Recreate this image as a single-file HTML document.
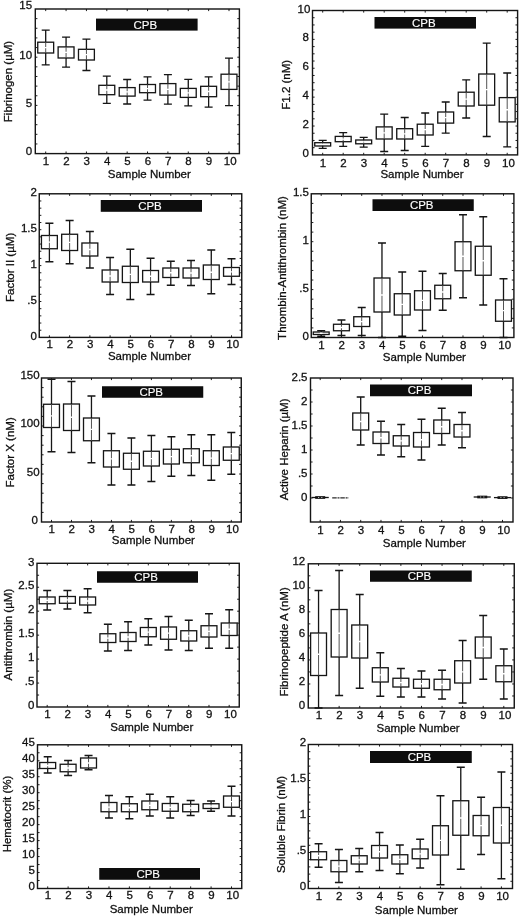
<!DOCTYPE html>
<html lang="en">
<head>
<meta charset="utf-8">
<title>Box plots: coagulation markers by sample number during CPB</title>
<style>
html,body{margin:0;padding:0;background:#fff;}
body{width:520px;height:918px;overflow:hidden;}
svg{display:block;}
svg text{font-family:"Liberation Sans",Arial,Helvetica,sans-serif;font-size:11.5px;fill:#121212;stroke:#121212;stroke-width:0.3px;}
svg text.w{fill:#fff;stroke:#fff;stroke-width:0.15px;}
</style>
</head>
<body>
<svg width="520" height="918" viewBox="0 0 520 918">
<defs><filter id="soft" x="0" y="0" width="520" height="918" filterUnits="userSpaceOnUse"><feGaussianBlur stdDeviation="0.3"/></filter></defs>
<rect width="520" height="918" fill="#fff"/>
<g filter="url(#soft)">
<rect width="520" height="918" fill="#fff"/>
<g>
<path d="M35.3 143.96h2.1M239.4 143.96h-2.1M35.3 134.32h2.1M239.4 134.32h-2.1M35.3 124.68h2.1M239.4 124.68h-2.1M35.3 115.04h2.1M239.4 115.04h-2.1M35.3 105.4h2.1M239.4 105.4h-2.1M35.3 95.76h2.1M239.4 95.76h-2.1M35.3 86.12h2.1M239.4 86.12h-2.1M35.3 76.48h2.1M239.4 76.48h-2.1M35.3 66.84h2.1M239.4 66.84h-2.1M35.3 57.2h2.1M239.4 57.2h-2.1M35.3 47.56h2.1M239.4 47.56h-2.1M35.3 37.92h2.1M239.4 37.92h-2.1M35.3 28.28h2.1M239.4 28.28h-2.1M35.3 18.64h2.1M239.4 18.64h-2.1M45.7 153.6v-2.1M45.7 9v2.1M66.07 153.6v-2.1M66.07 9v2.1M86.43 153.6v-2.1M86.43 9v2.1M106.8 153.6v-2.1M106.8 9v2.1M127.17 153.6v-2.1M127.17 9v2.1M147.53 153.6v-2.1M147.53 9v2.1M167.9 153.6v-2.1M167.9 9v2.1M188.27 153.6v-2.1M188.27 9v2.1M208.63 153.6v-2.1M208.63 9v2.1M229 153.6v-2.1M229 9v2.1" stroke="#121212" stroke-width="0.95" fill="none"/>
<path d="M45.7 30.1V42.2M45.7 53V64.8M41.7 30.1h8M41.7 64.8h8M66.07 37.2V46.9M66.07 58V67.1M62.07 37.2h8M62.07 67.1h8M86.43 39.2V49.3M86.43 60V70.5M82.43 39.2h8M82.43 70.5h8M106.8 76.2V85.3M106.8 94.7V103.3M102.8 76.2h8M102.8 103.3h8M127.17 79.5V87.6M127.17 96.1V104M123.17 79.5h8M123.17 104h8M147.53 76.8V84.5M147.53 92.7V100.1M143.53 76.8h8M143.53 100.1h8M167.9 74.6V83.6M167.9 95.1V104.2M163.9 74.6h8M163.9 104.2h8M188.27 79.3V88.4M188.27 97.4V105.9M184.27 79.3h8M184.27 105.9h8M208.63 76.9V86.3M208.63 96.7V107.2M204.63 76.9h8M204.63 107.2h8M229 58.1V74.2M229 89.4V105.6M225 58.1h8M225 105.6h8" stroke="#121212" stroke-width="1.3" fill="none"/>
<g fill="#fff" stroke="#121212" stroke-width="1.3"><rect x="37.75" y="42.2" width="15.9" height="10.8"/><rect x="58.12" y="46.9" width="15.9" height="11.1"/><rect x="78.48" y="49.3" width="15.9" height="10.7"/><rect x="98.85" y="85.3" width="15.9" height="9.4"/><rect x="119.22" y="87.6" width="15.9" height="8.5"/><rect x="139.58" y="84.5" width="15.9" height="8.2"/><rect x="159.95" y="83.6" width="15.9" height="11.5"/><rect x="180.32" y="88.4" width="15.9" height="9"/><rect x="200.68" y="86.3" width="15.9" height="10.4"/><rect x="221.05" y="74.2" width="15.9" height="15.2"/></g>
<path d="M45.7 42.2V53M66.07 46.9V58M86.43 49.3V60M106.8 85.3V94.7M127.17 87.6V96.1M147.53 84.5V92.7M167.9 83.6V95.1M188.27 88.4V97.4M208.63 86.3V96.7M229 74.2V89.4" stroke="#4a4a4a" stroke-width="0.95" fill="none"/>
<path d="M44.4 47.6h2.6M64.77 52.45h2.6M85.13 54.65h2.6M105.5 90h2.6M125.87 91.85h2.6M146.23 88.6h2.6M166.6 89.35h2.6M186.97 92.9h2.6M207.33 91.5h2.6M227.7 81.8h2.6" stroke="#fff" stroke-width="1.3" fill="none"/>
<rect x="35.3" y="9" width="204.1" height="144.6" fill="none" stroke="#121212" stroke-width="1.4"/>
<rect x="96" y="18.6" width="101.6" height="12" fill="#0a0a0a"/>
<text class="w" x="145.4" y="28.7" text-anchor="middle">CPB</text>
<text x="32.1" y="9.1" text-anchor="end">15</text>
<text x="32.1" y="58.5" text-anchor="end">10</text>
<text x="32.1" y="106.7" text-anchor="end">5</text>
<text x="32.1" y="154.9" text-anchor="end">0</text>
<text x="46" y="164.7" text-anchor="middle">1</text>
<text x="66.37" y="164.7" text-anchor="middle">2</text>
<text x="86.73" y="164.7" text-anchor="middle">3</text>
<text x="107.1" y="164.7" text-anchor="middle">4</text>
<text x="127.47" y="164.7" text-anchor="middle">5</text>
<text x="147.83" y="164.7" text-anchor="middle">6</text>
<text x="168.2" y="164.7" text-anchor="middle">7</text>
<text x="188.57" y="164.7" text-anchor="middle">8</text>
<text x="208.93" y="164.7" text-anchor="middle">9</text>
<text x="230.2" y="164.7" text-anchor="middle">10</text>
<text x="149.3" y="177.7" text-anchor="middle">Sample Number</text>
<text transform="translate(11.75 81.5) rotate(-90)" text-anchor="middle">Fibrinogen (µM)</text>
</g>
<g>
<path d="M312.5 147.68h2.1M517.6 147.68h-2.1M312.5 140.46h2.1M517.6 140.46h-2.1M312.5 133.24h2.1M517.6 133.24h-2.1M312.5 126.02h2.1M517.6 126.02h-2.1M312.5 118.8h2.1M517.6 118.8h-2.1M312.5 111.58h2.1M517.6 111.58h-2.1M312.5 104.36h2.1M517.6 104.36h-2.1M312.5 97.14h2.1M517.6 97.14h-2.1M312.5 89.92h2.1M517.6 89.92h-2.1M312.5 82.7h2.1M517.6 82.7h-2.1M312.5 75.48h2.1M517.6 75.48h-2.1M312.5 68.26h2.1M517.6 68.26h-2.1M312.5 61.04h2.1M517.6 61.04h-2.1M312.5 53.82h2.1M517.6 53.82h-2.1M312.5 46.6h2.1M517.6 46.6h-2.1M312.5 39.38h2.1M517.6 39.38h-2.1M312.5 32.16h2.1M517.6 32.16h-2.1M312.5 24.94h2.1M517.6 24.94h-2.1M312.5 17.72h2.1M517.6 17.72h-2.1M322.7 154.9v-2.1M322.7 10.5v2.1M343.2 154.9v-2.1M343.2 10.5v2.1M363.7 154.9v-2.1M363.7 10.5v2.1M384.2 154.9v-2.1M384.2 10.5v2.1M404.7 154.9v-2.1M404.7 10.5v2.1M425.2 154.9v-2.1M425.2 10.5v2.1M445.7 154.9v-2.1M445.7 10.5v2.1M466.2 154.9v-2.1M466.2 10.5v2.1M486.7 154.9v-2.1M486.7 10.5v2.1M507.2 154.9v-2.1M507.2 10.5v2.1" stroke="#121212" stroke-width="0.95" fill="none"/>
<path d="M322.7 140.3V142.7M322.7 146V148.3M318.7 140.3h8M318.7 148.3h8M343.2 132.6V136.4M343.2 141.7V146.3M339.2 132.6h8M339.2 146.3h8M363.7 137.3V140M363.7 143.8V147.1M359.7 137.3h8M359.7 147.1h8M384.2 114.1V126.9M384.2 139V151.5M380.2 114.1h8M380.2 151.5h8M404.7 117.5V128.7M404.7 139V150.5M400.7 117.5h8M400.7 150.5h8M425.2 113V124.2M425.2 135V146.4M421.2 113h8M421.2 146.4h8M445.7 102V112M445.7 123.1V133.1M441.7 102h8M441.7 133.1h8M466.2 79.8V92.2M466.2 106V118M462.2 79.8h8M462.2 118h8M486.7 43.1V74M486.7 105.2V136.5M482.7 43.1h8M482.7 136.5h8M507.2 73V97.6M507.2 121.9V146.8M503.2 73h8M503.2 146.8h8" stroke="#121212" stroke-width="1.3" fill="none"/>
<g fill="#fff" stroke="#121212" stroke-width="1.3"><rect x="314.75" y="142.7" width="15.9" height="3.3"/><rect x="335.25" y="136.4" width="15.9" height="5.3"/><rect x="355.75" y="140" width="15.9" height="3.8"/><rect x="376.25" y="126.9" width="15.9" height="12.1"/><rect x="396.75" y="128.7" width="15.9" height="10.3"/><rect x="417.25" y="124.2" width="15.9" height="10.8"/><rect x="437.75" y="112" width="15.9" height="11.1"/><rect x="458.25" y="92.2" width="15.9" height="13.8"/><rect x="478.75" y="74" width="15.9" height="31.2"/><rect x="499.25" y="97.6" width="15.9" height="24.3"/></g>
<path d="M322.7 142.7V146M343.2 136.4V141.7M363.7 140V143.8M384.2 126.9V139M404.7 128.7V139M425.2 124.2V135M445.7 112V123.1M466.2 92.2V106M486.7 74V105.2M507.2 97.6V121.9" stroke="#4a4a4a" stroke-width="0.95" fill="none"/>
<path d="M321.4 144.35h2.6M341.9 139.05h2.6M362.4 141.9h2.6M382.9 132.95h2.6M403.4 133.85h2.6M423.9 129.6h2.6M444.4 117.55h2.6M464.9 99.1h2.6M485.4 89.6h2.6M505.9 109.75h2.6" stroke="#fff" stroke-width="1.3" fill="none"/>
<rect x="312.5" y="10.5" width="205.1" height="144.4" fill="none" stroke="#121212" stroke-width="1.4"/>
<rect x="374.5" y="17" width="101.5" height="11.6" fill="#0a0a0a"/>
<text class="w" x="423.85" y="26.9" text-anchor="middle">CPB</text>
<text x="310.3" y="12.5" text-anchor="end">10</text>
<text x="308.9" y="41.38" text-anchor="end">8</text>
<text x="308.9" y="70.26" text-anchor="end">6</text>
<text x="308.9" y="99.14" text-anchor="end">4</text>
<text x="308.9" y="128.02" text-anchor="end">2</text>
<text x="308.9" y="156.9" text-anchor="end">0</text>
<text x="323" y="166.5" text-anchor="middle">1</text>
<text x="343.5" y="166.5" text-anchor="middle">2</text>
<text x="364" y="166.5" text-anchor="middle">3</text>
<text x="384.5" y="166.5" text-anchor="middle">4</text>
<text x="405" y="166.5" text-anchor="middle">5</text>
<text x="425.5" y="166.5" text-anchor="middle">6</text>
<text x="446" y="166.5" text-anchor="middle">7</text>
<text x="466.5" y="166.5" text-anchor="middle">8</text>
<text x="487" y="166.5" text-anchor="middle">9</text>
<text x="508.4" y="166.5" text-anchor="middle">10</text>
<text x="422" y="178.3" text-anchor="middle">Sample Number</text>
<text transform="translate(290 84.75) rotate(-90)" text-anchor="middle">F1.2 (nM)</text>
</g>
<g>
<path d="M39.25 330.22h2.1M241.75 330.22h-2.1M39.25 323.04h2.1M241.75 323.04h-2.1M39.25 315.86h2.1M241.75 315.86h-2.1M39.25 308.68h2.1M241.75 308.68h-2.1M39.25 301.5h2.1M241.75 301.5h-2.1M39.25 294.32h2.1M241.75 294.32h-2.1M39.25 287.14h2.1M241.75 287.14h-2.1M39.25 279.96h2.1M241.75 279.96h-2.1M39.25 272.78h2.1M241.75 272.78h-2.1M39.25 265.6h2.1M241.75 265.6h-2.1M39.25 258.42h2.1M241.75 258.42h-2.1M39.25 251.24h2.1M241.75 251.24h-2.1M39.25 244.06h2.1M241.75 244.06h-2.1M39.25 236.88h2.1M241.75 236.88h-2.1M39.25 229.7h2.1M241.75 229.7h-2.1M39.25 222.52h2.1M241.75 222.52h-2.1M39.25 215.34h2.1M241.75 215.34h-2.1M39.25 208.16h2.1M241.75 208.16h-2.1M39.25 200.98h2.1M241.75 200.98h-2.1M49.4 337.4v-2.1M49.4 193.8v2.1M69.63 337.4v-2.1M69.63 193.8v2.1M89.87 337.4v-2.1M89.87 193.8v2.1M110.1 337.4v-2.1M110.1 193.8v2.1M130.33 337.4v-2.1M130.33 193.8v2.1M150.57 337.4v-2.1M150.57 193.8v2.1M170.8 337.4v-2.1M170.8 193.8v2.1M191.03 337.4v-2.1M191.03 193.8v2.1M211.27 337.4v-2.1M211.27 193.8v2.1M231.5 337.4v-2.1M231.5 193.8v2.1" stroke="#121212" stroke-width="0.95" fill="none"/>
<path d="M49.4 223.25V235.5M49.4 248.75V261.75M45.4 223.25h8M45.4 261.75h8M69.63 220.5V234.25M69.63 250.5V263.75M65.63 220.5h8M65.63 263.75h8M89.87 231.5V243M89.87 256V268M85.87 231.5h8M85.87 268h8M110.1 257.5V270M110.1 282V294.5M106.1 257.5h8M106.1 294.5h8M130.33 249.25V266.25M130.33 282.5V299.5M126.33 249.25h8M126.33 299.5h8M150.57 258.25V270.5M150.57 282V294.5M146.57 258.25h8M146.57 294.5h8M170.8 261.25V268M170.8 277.5V285.25M166.8 261.25h8M166.8 285.25h8M191.03 260.5V268M191.03 278V285.5M187.03 260.5h8M187.03 285.5h8M211.27 250V265M211.27 279.5V293.75M207.27 250h8M207.27 293.75h8M231.5 258.75V267.5M231.5 276.25V284.5M227.5 258.75h8M227.5 284.5h8" stroke="#121212" stroke-width="1.3" fill="none"/>
<g fill="#fff" stroke="#121212" stroke-width="1.3"><rect x="41.45" y="235.5" width="15.9" height="13.25"/><rect x="61.68" y="234.25" width="15.9" height="16.25"/><rect x="81.92" y="243" width="15.9" height="13"/><rect x="102.15" y="270" width="15.9" height="12"/><rect x="122.38" y="266.25" width="15.9" height="16.25"/><rect x="142.62" y="270.5" width="15.9" height="11.5"/><rect x="162.85" y="268" width="15.9" height="9.5"/><rect x="183.08" y="268" width="15.9" height="10"/><rect x="203.32" y="265" width="15.9" height="14.5"/><rect x="223.55" y="267.5" width="15.9" height="8.75"/></g>
<path d="M49.4 235.5V248.75M69.63 234.25V250.5M89.87 243V256M110.1 270V282M130.33 266.25V282.5M150.57 270.5V282M170.8 268V277.5M191.03 268V278M211.27 265V279.5M231.5 267.5V276.25" stroke="#4a4a4a" stroke-width="0.95" fill="none"/>
<path d="M48.1 242.12h2.6M68.33 242.38h2.6M88.57 249.5h2.6M108.8 276h2.6M129.03 274.38h2.6M149.27 276.25h2.6M169.5 272.75h2.6M189.73 273h2.6M209.97 272.25h2.6M230.2 271.88h2.6" stroke="#fff" stroke-width="1.3" fill="none"/>
<rect x="39.25" y="193.8" width="202.5" height="143.6" fill="none" stroke="#121212" stroke-width="1.4"/>
<rect x="100.75" y="200" width="101.25" height="11.8" fill="#0a0a0a"/>
<text class="w" x="149.97" y="210" text-anchor="middle">CPB</text>
<text x="36.95" y="196.1" text-anchor="end">2</text>
<text x="36.95" y="232" text-anchor="end">1.5</text>
<text x="36.95" y="267.9" text-anchor="end">1</text>
<text x="36.95" y="303.8" text-anchor="end">.5</text>
<text x="36.95" y="339.7" text-anchor="end">0</text>
<text x="49.7" y="348" text-anchor="middle">1</text>
<text x="69.93" y="348" text-anchor="middle">2</text>
<text x="90.17" y="348" text-anchor="middle">3</text>
<text x="110.4" y="348" text-anchor="middle">4</text>
<text x="130.63" y="348" text-anchor="middle">5</text>
<text x="150.87" y="348" text-anchor="middle">6</text>
<text x="171.1" y="348" text-anchor="middle">7</text>
<text x="191.33" y="348" text-anchor="middle">8</text>
<text x="211.57" y="348" text-anchor="middle">9</text>
<text x="232.7" y="348" text-anchor="middle">10</text>
<text x="149.5" y="360" text-anchor="middle">Sample Number</text>
<text transform="translate(14 267.4) rotate(-90)" text-anchor="middle">Factor II (µM)</text>
</g>
<g>
<path d="M311.25 327.92h2.1M513.9 327.92h-2.1M311.25 318.34h2.1M513.9 318.34h-2.1M311.25 308.76h2.1M513.9 308.76h-2.1M311.25 299.18h2.1M513.9 299.18h-2.1M311.25 289.6h2.1M513.9 289.6h-2.1M311.25 280.02h2.1M513.9 280.02h-2.1M311.25 270.44h2.1M513.9 270.44h-2.1M311.25 260.86h2.1M513.9 260.86h-2.1M311.25 251.28h2.1M513.9 251.28h-2.1M311.25 241.7h2.1M513.9 241.7h-2.1M311.25 232.12h2.1M513.9 232.12h-2.1M311.25 222.54h2.1M513.9 222.54h-2.1M311.25 212.96h2.1M513.9 212.96h-2.1M311.25 203.38h2.1M513.9 203.38h-2.1M321.2 337.5v-2.1M321.2 193.8v2.1M341.46 337.5v-2.1M341.46 193.8v2.1M361.71 337.5v-2.1M361.71 193.8v2.1M381.97 337.5v-2.1M381.97 193.8v2.1M402.22 337.5v-2.1M402.22 193.8v2.1M422.48 337.5v-2.1M422.48 193.8v2.1M442.73 337.5v-2.1M442.73 193.8v2.1M462.99 337.5v-2.1M462.99 193.8v2.1M483.24 337.5v-2.1M483.24 193.8v2.1M503.5 337.5v-2.1M503.5 193.8v2.1" stroke="#121212" stroke-width="0.95" fill="none"/>
<path d="M321.2 330.75V332M321.2 334.5V336.25M317.2 330.75h8M317.2 336.25h8M341.46 320V324.25M341.46 330.75V335.5M337.46 320h8M337.46 335.5h8M361.71 307.5V316.75M361.71 326.5V335.5M357.71 307.5h8M357.71 335.5h8M381.97 243V278M381.97 312V337.5M377.97 243h8M377.97 337.5h8M402.22 272V293.75M402.22 315V336.25M398.22 272h8M398.22 336.25h8M422.48 271.25V290.75M422.48 310V330.5M418.48 271.25h8M418.48 330.5h8M442.73 273.5V285.25M442.73 298.75V310.25M438.73 273.5h8M438.73 310.25h8M462.99 214.75V241.75M462.99 270.75V297.75M458.99 214.75h8M458.99 297.75h8M483.24 216.75V246.25M483.24 275.25V305M479.24 216.75h8M479.24 305h8M503.5 278.75V300M503.5 321.25V337.5M499.5 278.75h8M499.5 337.5h8" stroke="#121212" stroke-width="1.3" fill="none"/>
<g fill="#fff" stroke="#121212" stroke-width="1.3"><rect x="313.25" y="332" width="15.9" height="2.5"/><rect x="333.51" y="324.25" width="15.9" height="6.5"/><rect x="353.76" y="316.75" width="15.9" height="9.75"/><rect x="374.02" y="278" width="15.9" height="34"/><rect x="394.27" y="293.75" width="15.9" height="21.25"/><rect x="414.53" y="290.75" width="15.9" height="19.25"/><rect x="434.78" y="285.25" width="15.9" height="13.5"/><rect x="455.04" y="241.75" width="15.9" height="29"/><rect x="475.29" y="246.25" width="15.9" height="29"/><rect x="495.55" y="300" width="15.9" height="21.25"/></g>
<path d="M321.2 332V334.5M341.46 324.25V330.75M361.71 316.75V326.5M381.97 278V312M402.22 293.75V315M422.48 290.75V310M442.73 285.25V298.75M462.99 241.75V270.75M483.24 246.25V275.25M503.5 300V321.25" stroke="#4a4a4a" stroke-width="0.95" fill="none"/>
<path d="M319.9 333.25h2.6M340.16 327.5h2.6M360.41 321.62h2.6M380.67 295h2.6M400.92 304.38h2.6M421.18 300.38h2.6M441.43 292h2.6M461.69 256.25h2.6M481.94 260.75h2.6M502.2 310.62h2.6" stroke="#fff" stroke-width="1.3" fill="none"/>
<rect x="311.25" y="193.8" width="202.65" height="143.7" fill="none" stroke="#121212" stroke-width="1.4"/>
<rect x="372.5" y="199.25" width="101.25" height="11.75" fill="#0a0a0a"/>
<text class="w" x="421.73" y="209.22" text-anchor="middle">CPB</text>
<text x="308.95" y="196" text-anchor="end">1.5</text>
<text x="308.95" y="243.9" text-anchor="end">1</text>
<text x="308.95" y="291.8" text-anchor="end">.5</text>
<text x="308.95" y="339.7" text-anchor="end">0</text>
<text x="321.5" y="349" text-anchor="middle">1</text>
<text x="341.76" y="349" text-anchor="middle">2</text>
<text x="362.01" y="349" text-anchor="middle">3</text>
<text x="382.27" y="349" text-anchor="middle">4</text>
<text x="402.52" y="349" text-anchor="middle">5</text>
<text x="422.78" y="349" text-anchor="middle">6</text>
<text x="443.03" y="349" text-anchor="middle">7</text>
<text x="463.29" y="349" text-anchor="middle">8</text>
<text x="483.54" y="349" text-anchor="middle">9</text>
<text x="504.7" y="349" text-anchor="middle">10</text>
<text x="424.4" y="360.8" text-anchor="middle">Sample Number</text>
<text transform="translate(286.4 268) rotate(-90)" text-anchor="middle">Thrombin-Antithrombin (nM)</text>
</g>
<g>
<path d="M41.5 512.4h2.1M241.25 512.4h-2.1M41.5 502.8h2.1M241.25 502.8h-2.1M41.5 493.2h2.1M241.25 493.2h-2.1M41.5 483.6h2.1M241.25 483.6h-2.1M41.5 474h2.1M241.25 474h-2.1M41.5 464.4h2.1M241.25 464.4h-2.1M41.5 454.8h2.1M241.25 454.8h-2.1M41.5 445.2h2.1M241.25 445.2h-2.1M41.5 435.6h2.1M241.25 435.6h-2.1M41.5 426h2.1M241.25 426h-2.1M41.5 416.4h2.1M241.25 416.4h-2.1M41.5 406.8h2.1M241.25 406.8h-2.1M41.5 397.2h2.1M241.25 397.2h-2.1M41.5 387.6h2.1M241.25 387.6h-2.1M51.5 522v-2.1M51.5 378v2.1M71.48 522v-2.1M71.48 378v2.1M91.46 522v-2.1M91.46 378v2.1M111.43 522v-2.1M111.43 378v2.1M131.41 522v-2.1M131.41 378v2.1M151.39 522v-2.1M151.39 378v2.1M171.37 522v-2.1M171.37 378v2.1M191.34 522v-2.1M191.34 378v2.1M211.32 522v-2.1M211.32 378v2.1M231.3 522v-2.1M231.3 378v2.1" stroke="#121212" stroke-width="0.95" fill="none"/>
<path d="M51.5 379.25V404.25M51.5 427.5V451.75M47.5 379.25h8M47.5 451.75h8M71.48 381.5V404M71.48 430.5V452.5M67.48 381.5h8M67.48 452.5h8M91.46 396V418M91.46 440.75V462.75M87.46 396h8M87.46 462.75h8M111.43 433.5V450.75M111.43 467V485M107.43 433.5h8M107.43 485h8M131.41 438V453.25M131.41 469.25V485M127.41 438h8M127.41 485h8M151.39 435.5V451.25M151.39 466V481.5M147.39 435.5h8M147.39 481.5h8M171.37 436.75V449.25M171.37 464V476.25M167.37 436.75h8M167.37 476.25h8M191.34 434.75V448.75M191.34 462.75V475.5M187.34 434.75h8M187.34 475.5h8M211.32 434.75V450.75M211.32 465.5V480.25M207.32 434.75h8M207.32 480.25h8M231.3 432.5V447M231.3 460.25V474.25M227.3 432.5h8M227.3 474.25h8" stroke="#121212" stroke-width="1.3" fill="none"/>
<g fill="#fff" stroke="#121212" stroke-width="1.3"><rect x="43.55" y="404.25" width="15.9" height="23.25"/><rect x="63.53" y="404" width="15.9" height="26.5"/><rect x="83.51" y="418" width="15.9" height="22.75"/><rect x="103.48" y="450.75" width="15.9" height="16.25"/><rect x="123.46" y="453.25" width="15.9" height="16"/><rect x="143.44" y="451.25" width="15.9" height="14.75"/><rect x="163.42" y="449.25" width="15.9" height="14.75"/><rect x="183.39" y="448.75" width="15.9" height="14"/><rect x="203.37" y="450.75" width="15.9" height="14.75"/><rect x="223.35" y="447" width="15.9" height="13.25"/></g>
<path d="M51.5 404.25V427.5M71.48 404V430.5M91.46 418V440.75M111.43 450.75V467M131.41 453.25V469.25M151.39 451.25V466M171.37 449.25V464M191.34 448.75V462.75M211.32 450.75V465.5M231.3 447V460.25" stroke="#4a4a4a" stroke-width="0.95" fill="none"/>
<path d="M50.2 415.88h2.6M70.18 417.25h2.6M90.16 429.38h2.6M110.13 458.88h2.6M130.11 461.25h2.6M150.09 458.62h2.6M170.07 456.62h2.6M190.04 455.75h2.6M210.02 458.12h2.6M230 453.62h2.6" stroke="#fff" stroke-width="1.3" fill="none"/>
<rect x="41.5" y="378" width="199.75" height="144" fill="none" stroke="#121212" stroke-width="1.4"/>
<rect x="102" y="386.25" width="101.25" height="11.5" fill="#0a0a0a"/>
<text class="w" x="151.22" y="396.1" text-anchor="middle">CPB</text>
<text x="39.6" y="378.9" text-anchor="end">150</text>
<text x="39.6" y="427" text-anchor="end">100</text>
<text x="39.6" y="475.5" text-anchor="end">50</text>
<text x="38" y="523.5" text-anchor="end">0</text>
<text x="51.8" y="532.9" text-anchor="middle">1</text>
<text x="71.78" y="532.9" text-anchor="middle">2</text>
<text x="91.76" y="532.9" text-anchor="middle">3</text>
<text x="111.73" y="532.9" text-anchor="middle">4</text>
<text x="131.71" y="532.9" text-anchor="middle">5</text>
<text x="151.69" y="532.9" text-anchor="middle">6</text>
<text x="171.67" y="532.9" text-anchor="middle">7</text>
<text x="191.64" y="532.9" text-anchor="middle">8</text>
<text x="211.62" y="532.9" text-anchor="middle">9</text>
<text x="232.5" y="532.9" text-anchor="middle">10</text>
<text x="153.4" y="543.7" text-anchor="middle">Sample Number</text>
<text transform="translate(14 452.4) rotate(-90)" text-anchor="middle">Factor X (nM)</text>
</g>
<g>
<path d="M310.5 498h2.1M513 498h-2.1M310.5 486h2.1M513 486h-2.1M310.5 474h2.1M513 474h-2.1M310.5 462h2.1M513 462h-2.1M310.5 450h2.1M513 450h-2.1M310.5 438h2.1M513 438h-2.1M310.5 426h2.1M513 426h-2.1M310.5 414h2.1M513 414h-2.1M310.5 402h2.1M513 402h-2.1M310.5 390h2.1M513 390h-2.1M320.2 522v-2.1M320.2 378v2.1M340.46 522v-2.1M340.46 378v2.1M360.71 522v-2.1M360.71 378v2.1M380.97 522v-2.1M380.97 378v2.1M401.22 522v-2.1M401.22 378v2.1M421.48 522v-2.1M421.48 378v2.1M441.73 522v-2.1M441.73 378v2.1M461.99 522v-2.1M461.99 378v2.1M482.24 522v-2.1M482.24 378v2.1M502.5 522v-2.1M502.5 378v2.1" stroke="#121212" stroke-width="0.95" fill="none"/>
<path d="M360.71 397V413M360.71 430V445M356.71 397h8M356.71 445h8M380.97 421.25V432M380.97 443.5V455M376.97 421.25h8M376.97 455h8M401.22 424.5V435.75M401.22 446V456.75M397.22 424.5h8M397.22 456.75h8M421.48 419.25V432.5M421.48 447V460M417.48 419.25h8M417.48 460h8M441.73 408.25V420M441.73 433.5V445M437.73 408.25h8M437.73 445h8M461.99 412.5V424.5M461.99 437V447.75M457.99 412.5h8M457.99 447.75h8" stroke="#121212" stroke-width="1.3" fill="none"/>
<g fill="#fff" stroke="#121212" stroke-width="1.3"><rect x="352.76" y="413" width="15.9" height="17"/><rect x="373.02" y="432" width="15.9" height="11.5"/><rect x="393.27" y="435.75" width="15.9" height="10.25"/><rect x="413.53" y="432.5" width="15.9" height="14.5"/><rect x="433.78" y="420" width="15.9" height="13.5"/><rect x="454.04" y="424.5" width="15.9" height="12.5"/></g>
<path d="M360.71 413V430M380.97 432V443.5M401.22 435.75V446M421.48 432.5V447M441.73 420V433.5M461.99 424.5V437" stroke="#4a4a4a" stroke-width="0.95" fill="none"/>
<path d="M359.41 421.5h2.6M379.67 437.75h2.6M399.92 440.88h2.6M420.18 439.75h2.6M440.43 426.75h2.6M460.69 430.75h2.6" stroke="#fff" stroke-width="1.3" fill="none"/>
<path d="M311.65 497.5h17.1" stroke="#121212" stroke-width="1.3"/>
<path d="M315.2 497.5h10" stroke="#121212" stroke-width="2.7"/>
<path d="M318 497.5h1.2M321.2 497.5h1.2" stroke="#cfcfcf" stroke-width="0.9"/>
<path d="M332.21 497.9h16.5" stroke="#2a2a2a" stroke-width="1.1" stroke-dasharray="4.5 0.8 2 0.8"/>
<path d="M473.69 497h17.1" stroke="#121212" stroke-width="1.3"/>
<path d="M477.24 497h10" stroke="#121212" stroke-width="2.7"/>
<path d="M480.04 497h1.2M483.24 497h1.2" stroke="#cfcfcf" stroke-width="0.9"/>
<path d="M493.95 497.6h17.1" stroke="#121212" stroke-width="1.3"/>
<path d="M497.5 497.6h10" stroke="#121212" stroke-width="2.7"/>
<path d="M500.3 497.6h1.2M503.5 497.6h1.2" stroke="#cfcfcf" stroke-width="0.9"/>
<rect x="310.5" y="378" width="202.5" height="144" fill="none" stroke="#121212" stroke-width="1.4"/>
<rect x="370" y="384.5" width="102" height="11.75" fill="#0a0a0a"/>
<text class="w" x="419.6" y="394.48" text-anchor="middle">CPB</text>
<text x="307.5" y="380.5" text-anchor="end">2.5</text>
<text x="307.5" y="404.5" text-anchor="end">2</text>
<text x="307.5" y="428.5" text-anchor="end">1.5</text>
<text x="307.5" y="452.5" text-anchor="end">1</text>
<text x="307.5" y="476.5" text-anchor="end">.5</text>
<text x="307.5" y="500.5" text-anchor="end">0</text>
<text x="320.5" y="533.8" text-anchor="middle">1</text>
<text x="340.76" y="533.8" text-anchor="middle">2</text>
<text x="361.01" y="533.8" text-anchor="middle">3</text>
<text x="381.27" y="533.8" text-anchor="middle">4</text>
<text x="401.52" y="533.8" text-anchor="middle">5</text>
<text x="421.78" y="533.8" text-anchor="middle">6</text>
<text x="442.03" y="533.8" text-anchor="middle">7</text>
<text x="462.29" y="533.8" text-anchor="middle">8</text>
<text x="482.54" y="533.8" text-anchor="middle">9</text>
<text x="503.7" y="533.8" text-anchor="middle">10</text>
<text x="424.4" y="547.4" text-anchor="middle">Sample Number</text>
<text transform="translate(288.2 449.4) rotate(-90)" text-anchor="middle">Active Heparin (µM)</text>
</g>
<g>
<path d="M37 695.02h2.1M239.25 695.02h-2.1M37 683.05h2.1M239.25 683.05h-2.1M37 671.08h2.1M239.25 671.08h-2.1M37 659.1h2.1M239.25 659.1h-2.1M37 647.12h2.1M239.25 647.12h-2.1M37 635.15h2.1M239.25 635.15h-2.1M37 623.17h2.1M239.25 623.17h-2.1M37 611.2h2.1M239.25 611.2h-2.1M37 599.22h2.1M239.25 599.22h-2.1M37 587.25h2.1M239.25 587.25h-2.1M37 575.27h2.1M239.25 575.27h-2.1M47.2 707v-2.1M47.2 563.3v2.1M67.42 707v-2.1M67.42 563.3v2.1M87.64 707v-2.1M87.64 563.3v2.1M107.87 707v-2.1M107.87 563.3v2.1M128.09 707v-2.1M128.09 563.3v2.1M148.31 707v-2.1M148.31 563.3v2.1M168.53 707v-2.1M168.53 563.3v2.1M188.76 707v-2.1M188.76 563.3v2.1M208.98 707v-2.1M208.98 563.3v2.1M229.2 707v-2.1M229.2 563.3v2.1" stroke="#121212" stroke-width="0.95" fill="none"/>
<path d="M47.2 590.5V597M47.2 603.75V610M43.2 590.5h8M43.2 610h8M67.42 590.5V596.5M67.42 603.25V609M63.42 590.5h8M63.42 609h8M87.64 588.75V597M87.64 605V612.75M83.64 588.75h8M83.64 612.75h8M107.87 624.25V633.75M107.87 642.5V651M103.87 624.25h8M103.87 651h8M128.09 621.75V632.5M128.09 641.5V650.5M124.09 621.75h8M124.09 650.5h8M148.31 618.75V627.5M148.31 636.75V645M144.31 618.75h8M144.31 645h8M168.53 616.5V627M168.53 639.25V650M164.53 616.5h8M164.53 650h8M188.76 620.25V630.75M188.76 641V650.5M184.76 620.25h8M184.76 650.5h8M208.98 613.75V625.75M208.98 637V648.25M204.98 613.75h8M204.98 648.25h8M229.2 609.75V623M229.2 635.5V648.25M225.2 609.75h8M225.2 648.25h8" stroke="#121212" stroke-width="1.3" fill="none"/>
<g fill="#fff" stroke="#121212" stroke-width="1.3"><rect x="39.25" y="597" width="15.9" height="6.75"/><rect x="59.47" y="596.5" width="15.9" height="6.75"/><rect x="79.69" y="597" width="15.9" height="8"/><rect x="99.92" y="633.75" width="15.9" height="8.75"/><rect x="120.14" y="632.5" width="15.9" height="9"/><rect x="140.36" y="627.5" width="15.9" height="9.25"/><rect x="160.58" y="627" width="15.9" height="12.25"/><rect x="180.81" y="630.75" width="15.9" height="10.25"/><rect x="201.03" y="625.75" width="15.9" height="11.25"/><rect x="221.25" y="623" width="15.9" height="12.5"/></g>
<path d="M47.2 597V603.75M67.42 596.5V603.25M87.64 597V605M107.87 633.75V642.5M128.09 632.5V641.5M148.31 627.5V636.75M168.53 627V639.25M188.76 630.75V641M208.98 625.75V637M229.2 623V635.5" stroke="#4a4a4a" stroke-width="0.95" fill="none"/>
<path d="M45.9 600.38h2.6M66.12 599.88h2.6M86.34 601h2.6M106.57 638.12h2.6M126.79 637h2.6M147.01 632.12h2.6M167.23 633.12h2.6M187.46 635.88h2.6M207.68 631.38h2.6M227.9 629.25h2.6" stroke="#fff" stroke-width="1.3" fill="none"/>
<rect x="37" y="563.3" width="202.25" height="143.7" fill="none" stroke="#121212" stroke-width="1.4"/>
<rect x="97" y="571.25" width="101" height="11.5" fill="#0a0a0a"/>
<text class="w" x="146.1" y="581.1" text-anchor="middle">CPB</text>
<text x="34.3" y="565.5" text-anchor="end">3</text>
<text x="34.3" y="589.45" text-anchor="end">2.5</text>
<text x="34.3" y="613.4" text-anchor="end">2</text>
<text x="34.3" y="637.35" text-anchor="end">1.5</text>
<text x="34.3" y="661.3" text-anchor="end">1</text>
<text x="34.3" y="685.25" text-anchor="end">.5</text>
<text x="34.3" y="709.2" text-anchor="end">0</text>
<text x="47.5" y="717.6" text-anchor="middle">1</text>
<text x="67.72" y="717.6" text-anchor="middle">2</text>
<text x="87.94" y="717.6" text-anchor="middle">3</text>
<text x="108.17" y="717.6" text-anchor="middle">4</text>
<text x="128.39" y="717.6" text-anchor="middle">5</text>
<text x="148.61" y="717.6" text-anchor="middle">6</text>
<text x="168.83" y="717.6" text-anchor="middle">7</text>
<text x="189.06" y="717.6" text-anchor="middle">8</text>
<text x="209.28" y="717.6" text-anchor="middle">9</text>
<text x="230.4" y="717.6" text-anchor="middle">10</text>
<text x="151.8" y="731" text-anchor="middle">Sample Number</text>
<text transform="translate(11.5 634.6) rotate(-90)" text-anchor="middle">Antithrombin (µM)</text>
</g>
<g>
<path d="M308.25 695.98h2.1M514.25 695.98h-2.1M308.25 683.97h2.1M514.25 683.97h-2.1M308.25 671.95h2.1M514.25 671.95h-2.1M308.25 659.93h2.1M514.25 659.93h-2.1M308.25 647.92h2.1M514.25 647.92h-2.1M308.25 635.9h2.1M514.25 635.9h-2.1M308.25 623.88h2.1M514.25 623.88h-2.1M308.25 611.87h2.1M514.25 611.87h-2.1M308.25 599.85h2.1M514.25 599.85h-2.1M308.25 587.83h2.1M514.25 587.83h-2.1M308.25 575.82h2.1M514.25 575.82h-2.1M318.55 708v-2.1M318.55 563.8v2.1M339.13 708v-2.1M339.13 563.8v2.1M359.72 708v-2.1M359.72 563.8v2.1M380.3 708v-2.1M380.3 563.8v2.1M400.88 708v-2.1M400.88 563.8v2.1M421.47 708v-2.1M421.47 563.8v2.1M442.05 708v-2.1M442.05 563.8v2.1M462.63 708v-2.1M462.63 563.8v2.1M483.22 708v-2.1M483.22 563.8v2.1M503.8 708v-2.1M503.8 563.8v2.1" stroke="#121212" stroke-width="0.95" fill="none"/>
<path d="M318.55 590.5V633M318.55 675.5V708M314.55 590.5h8M314.55 708h8M339.13 570.5V609.5M339.13 657V695.5M335.13 570.5h8M335.13 695.5h8M359.72 594.5V625M359.72 658V688.25M355.72 594.5h8M355.72 688.25h8M380.3 652.75V667.75M380.3 682V696.25M376.3 652.75h8M376.3 696.25h8M400.88 668.5V678.25M400.88 687V697M396.88 668.5h8M396.88 697h8M421.47 671V679.25M421.47 688.25V697M417.47 671h8M417.47 697h8M442.05 670.25V679.25M442.05 689.75V699M438.05 670.25h8M438.05 699h8M462.63 640.5V660.75M462.63 683V703M458.63 640.5h8M458.63 703h8M483.22 615.5V637M483.22 658V679.25M479.22 615.5h8M479.22 679.25h8M503.8 649V665.75M503.8 681.75V699M499.8 649h8M499.8 699h8" stroke="#121212" stroke-width="1.3" fill="none"/>
<g fill="#fff" stroke="#121212" stroke-width="1.3"><rect x="310.6" y="633" width="15.9" height="42.5"/><rect x="331.18" y="609.5" width="15.9" height="47.5"/><rect x="351.77" y="625" width="15.9" height="33"/><rect x="372.35" y="667.75" width="15.9" height="14.25"/><rect x="392.93" y="678.25" width="15.9" height="8.75"/><rect x="413.52" y="679.25" width="15.9" height="9"/><rect x="434.1" y="679.25" width="15.9" height="10.5"/><rect x="454.68" y="660.75" width="15.9" height="22.25"/><rect x="475.27" y="637" width="15.9" height="21"/><rect x="495.85" y="665.75" width="15.9" height="16"/></g>
<path d="M318.55 633V675.5M339.13 609.5V657M359.72 625V658M380.3 667.75V682M400.88 678.25V687M421.47 679.25V688.25M442.05 679.25V689.75M462.63 660.75V683M483.22 637V658M503.8 665.75V681.75" stroke="#4a4a4a" stroke-width="0.95" fill="none"/>
<path d="M317.25 654.25h2.6M337.83 633.25h2.6M358.42 641.5h2.6M379 674.88h2.6M399.58 682.62h2.6M420.17 683.75h2.6M440.75 684.5h2.6M461.33 671.88h2.6M481.92 647.5h2.6M502.5 673.75h2.6" stroke="#fff" stroke-width="1.3" fill="none"/>
<rect x="308.25" y="563.8" width="206" height="144.2" fill="none" stroke="#121212" stroke-width="1.4"/>
<rect x="370" y="570.5" width="101.75" height="11.25" fill="#0a0a0a"/>
<text class="w" x="419.48" y="580.23" text-anchor="middle">CPB</text>
<text x="305.25" y="564.8" text-anchor="end">12</text>
<text x="305.25" y="588.83" text-anchor="end">10</text>
<text x="305.25" y="612.87" text-anchor="end">8</text>
<text x="305.25" y="636.9" text-anchor="end">6</text>
<text x="305.25" y="660.93" text-anchor="end">4</text>
<text x="305.25" y="684.97" text-anchor="end">2</text>
<text x="305.25" y="709" text-anchor="end">0</text>
<text x="318.85" y="718.9" text-anchor="middle">1</text>
<text x="339.43" y="718.9" text-anchor="middle">2</text>
<text x="360.02" y="718.9" text-anchor="middle">3</text>
<text x="380.6" y="718.9" text-anchor="middle">4</text>
<text x="401.18" y="718.9" text-anchor="middle">5</text>
<text x="421.77" y="718.9" text-anchor="middle">6</text>
<text x="442.35" y="718.9" text-anchor="middle">7</text>
<text x="462.93" y="718.9" text-anchor="middle">8</text>
<text x="483.52" y="718.9" text-anchor="middle">9</text>
<text x="505" y="718.9" text-anchor="middle">10</text>
<text x="418.1" y="731.8" text-anchor="middle">Sample Number</text>
<text transform="translate(287.8 641.9) rotate(-90)" text-anchor="middle">Fibrinopeptide A (nM)</text>
</g>
<g>
<path d="M37.5 880.52h2.1M241.75 880.52h-2.1M37.5 872.53h2.1M241.75 872.53h-2.1M37.5 864.55h2.1M241.75 864.55h-2.1M37.5 856.57h2.1M241.75 856.57h-2.1M37.5 848.58h2.1M241.75 848.58h-2.1M37.5 840.6h2.1M241.75 840.6h-2.1M37.5 832.62h2.1M241.75 832.62h-2.1M37.5 824.63h2.1M241.75 824.63h-2.1M37.5 816.65h2.1M241.75 816.65h-2.1M37.5 808.67h2.1M241.75 808.67h-2.1M37.5 800.68h2.1M241.75 800.68h-2.1M37.5 792.7h2.1M241.75 792.7h-2.1M37.5 784.72h2.1M241.75 784.72h-2.1M37.5 776.73h2.1M241.75 776.73h-2.1M37.5 768.75h2.1M241.75 768.75h-2.1M37.5 760.77h2.1M241.75 760.77h-2.1M37.5 752.78h2.1M241.75 752.78h-2.1M47.7 888.5v-2.1M47.7 744.8v2.1M68.12 888.5v-2.1M68.12 744.8v2.1M88.54 888.5v-2.1M88.54 744.8v2.1M108.97 888.5v-2.1M108.97 744.8v2.1M129.39 888.5v-2.1M129.39 744.8v2.1M149.81 888.5v-2.1M149.81 744.8v2.1M170.23 888.5v-2.1M170.23 744.8v2.1M190.66 888.5v-2.1M190.66 744.8v2.1M211.08 888.5v-2.1M211.08 744.8v2.1M231.5 888.5v-2.1M231.5 744.8v2.1" stroke="#121212" stroke-width="0.95" fill="none"/>
<path d="M47.7 756.75V762.5M47.7 768.5V773M43.7 756.75h8M43.7 773h8M68.12 760.5V764.25M68.12 771.75V775.5M64.12 760.5h8M64.12 775.5h8M88.54 755.5V758M88.54 768V769.75M84.54 755.5h8M84.54 769.75h8M108.97 795.5V802.5M108.97 811.75V818M104.97 795.5h8M104.97 818h8M129.39 796.75V803.75M129.39 811.75V818.75M125.39 796.75h8M125.39 818.75h8M149.81 794.25V801M149.81 809.75V816M145.81 794.25h8M145.81 816h8M170.23 796.75V803.5M170.23 811.25V818M166.23 796.75h8M166.23 818h8M190.66 800.5V804.25M190.66 811.75V815.5M186.66 800.5h8M186.66 815.5h8M211.08 801V803.75M211.08 808.5V811.25M207.08 801h8M207.08 811.25h8M231.5 786.25V796M231.5 807.25V816M227.5 786.25h8M227.5 816h8" stroke="#121212" stroke-width="1.3" fill="none"/>
<g fill="#fff" stroke="#121212" stroke-width="1.3"><rect x="39.75" y="762.5" width="15.9" height="6"/><rect x="60.17" y="764.25" width="15.9" height="7.5"/><rect x="80.59" y="758" width="15.9" height="10"/><rect x="101.02" y="802.5" width="15.9" height="9.25"/><rect x="121.44" y="803.75" width="15.9" height="8"/><rect x="141.86" y="801" width="15.9" height="8.75"/><rect x="162.28" y="803.5" width="15.9" height="7.75"/><rect x="182.71" y="804.25" width="15.9" height="7.5"/><rect x="203.13" y="803.75" width="15.9" height="4.75"/><rect x="223.55" y="796" width="15.9" height="11.25"/></g>
<path d="M47.7 762.5V768.5M68.12 764.25V771.75M88.54 758V768M108.97 802.5V811.75M129.39 803.75V811.75M149.81 801V809.75M170.23 803.5V811.25M190.66 804.25V811.75M211.08 803.75V808.5M231.5 796V807.25" stroke="#4a4a4a" stroke-width="0.95" fill="none"/>
<path d="M46.4 765.5h2.6M66.82 768h2.6M87.24 763h2.6M107.67 807.12h2.6M128.09 807.75h2.6M148.51 805.38h2.6M168.93 807.38h2.6M189.36 808h2.6M209.78 806.12h2.6M230.2 801.62h2.6" stroke="#fff" stroke-width="1.3" fill="none"/>
<rect x="37.5" y="744.8" width="204.25" height="143.7" fill="none" stroke="#121212" stroke-width="1.4"/>
<rect x="99.25" y="868" width="100.75" height="11.75" fill="#0a0a0a"/>
<text class="w" x="148.22" y="877.98" text-anchor="middle">CPB</text>
<text x="34.8" y="746.3" text-anchor="end">45</text>
<text x="34.8" y="762.27" text-anchor="end">40</text>
<text x="34.8" y="778.23" text-anchor="end">35</text>
<text x="34.8" y="794.2" text-anchor="end">30</text>
<text x="34.8" y="810.17" text-anchor="end">25</text>
<text x="34.8" y="826.13" text-anchor="end">20</text>
<text x="34.8" y="842.1" text-anchor="end">15</text>
<text x="34.8" y="858.07" text-anchor="end">10</text>
<text x="34.8" y="874.03" text-anchor="end">5</text>
<text x="34.8" y="890" text-anchor="end">0</text>
<text x="48" y="899.1" text-anchor="middle">1</text>
<text x="68.42" y="899.1" text-anchor="middle">2</text>
<text x="88.84" y="899.1" text-anchor="middle">3</text>
<text x="109.27" y="899.1" text-anchor="middle">4</text>
<text x="129.69" y="899.1" text-anchor="middle">5</text>
<text x="150.11" y="899.1" text-anchor="middle">6</text>
<text x="170.53" y="899.1" text-anchor="middle">7</text>
<text x="190.96" y="899.1" text-anchor="middle">8</text>
<text x="211.38" y="899.1" text-anchor="middle">9</text>
<text x="232.7" y="899.1" text-anchor="middle">10</text>
<text x="151.2" y="912.7" text-anchor="middle">Sample Number</text>
<text transform="translate(11.3 814) rotate(-90)" text-anchor="middle">Hematocrit (%)</text>
</g>
<g>
<path d="M308.25 881.3h2.1M512.5 881.3h-2.1M308.25 874.1h2.1M512.5 874.1h-2.1M308.25 866.9h2.1M512.5 866.9h-2.1M308.25 859.7h2.1M512.5 859.7h-2.1M308.25 852.5h2.1M512.5 852.5h-2.1M308.25 845.3h2.1M512.5 845.3h-2.1M308.25 838.1h2.1M512.5 838.1h-2.1M308.25 830.9h2.1M512.5 830.9h-2.1M308.25 823.7h2.1M512.5 823.7h-2.1M308.25 816.5h2.1M512.5 816.5h-2.1M308.25 809.3h2.1M512.5 809.3h-2.1M308.25 802.1h2.1M512.5 802.1h-2.1M308.25 794.9h2.1M512.5 794.9h-2.1M308.25 787.7h2.1M512.5 787.7h-2.1M308.25 780.5h2.1M512.5 780.5h-2.1M308.25 773.3h2.1M512.5 773.3h-2.1M308.25 766.1h2.1M512.5 766.1h-2.1M308.25 758.9h2.1M512.5 758.9h-2.1M308.25 751.7h2.1M512.5 751.7h-2.1M318.6 888.5v-2.1M318.6 744.5v2.1M338.91 888.5v-2.1M338.91 744.5v2.1M359.22 888.5v-2.1M359.22 744.5v2.1M379.53 888.5v-2.1M379.53 744.5v2.1M399.84 888.5v-2.1M399.84 744.5v2.1M420.16 888.5v-2.1M420.16 744.5v2.1M440.47 888.5v-2.1M440.47 744.5v2.1M460.78 888.5v-2.1M460.78 744.5v2.1M481.09 888.5v-2.1M481.09 744.5v2.1M501.4 888.5v-2.1M501.4 744.5v2.1" stroke="#121212" stroke-width="0.95" fill="none"/>
<path d="M318.6 843.75V851.75M318.6 859.75V867.25M314.6 843.75h8M314.6 867.25h8M338.91 849.5V860.5M338.91 871.75V882.5M334.91 849.5h8M334.91 882.5h8M359.22 848.5V855.75M359.22 864V871.75M355.22 848.5h8M355.22 871.75h8M379.53 832.5V845.5M379.53 858V870.5M375.53 832.5h8M375.53 870.5h8M399.84 845V854.75M399.84 864V873.75M395.84 845h8M395.84 873.75h8M420.16 839.25V849M420.16 858.75V868M416.16 839.25h8M416.16 868h8M440.47 795.75V825.75M440.47 855V884.75M436.47 795.75h8M436.47 884.75h8M460.78 767.25V800.75M460.78 835.25V869.25M456.78 767.25h8M456.78 869.25h8M481.09 797.25V815.5M481.09 835.75V854.5M477.09 797.25h8M477.09 854.5h8M501.4 772V807.5M501.4 843V878.75M497.4 772h8M497.4 878.75h8" stroke="#121212" stroke-width="1.3" fill="none"/>
<g fill="#fff" stroke="#121212" stroke-width="1.3"><rect x="310.65" y="851.75" width="15.9" height="8"/><rect x="330.96" y="860.5" width="15.9" height="11.25"/><rect x="351.27" y="855.75" width="15.9" height="8.25"/><rect x="371.58" y="845.5" width="15.9" height="12.5"/><rect x="391.89" y="854.75" width="15.9" height="9.25"/><rect x="412.21" y="849" width="15.9" height="9.75"/><rect x="432.52" y="825.75" width="15.9" height="29.25"/><rect x="452.83" y="800.75" width="15.9" height="34.5"/><rect x="473.14" y="815.5" width="15.9" height="20.25"/><rect x="493.45" y="807.5" width="15.9" height="35.5"/></g>
<path d="M318.6 851.75V859.75M338.91 860.5V871.75M359.22 855.75V864M379.53 845.5V858M399.84 854.75V864M420.16 849V858.75M440.47 825.75V855M460.78 800.75V835.25M481.09 815.5V835.75M501.4 807.5V843" stroke="#4a4a4a" stroke-width="0.95" fill="none"/>
<path d="M317.3 855.75h2.6M337.61 866.12h2.6M357.92 859.88h2.6M378.23 851.75h2.6M398.54 859.38h2.6M418.86 853.88h2.6M439.17 840.38h2.6M459.48 818h2.6M479.79 825.62h2.6M500.1 825.25h2.6" stroke="#fff" stroke-width="1.3" fill="none"/>
<rect x="308.25" y="744.5" width="204.25" height="144" fill="none" stroke="#121212" stroke-width="1.4"/>
<rect x="370" y="751" width="101.75" height="12" fill="#0a0a0a"/>
<text class="w" x="419.48" y="761.1" text-anchor="middle">CPB</text>
<text x="306.25" y="745.6" text-anchor="end">2</text>
<text x="306.25" y="781.6" text-anchor="end">1.5</text>
<text x="306.25" y="817.6" text-anchor="end">1</text>
<text x="306.25" y="853.6" text-anchor="end">.5</text>
<text x="306.25" y="889.6" text-anchor="end">0</text>
<text x="318.9" y="900" text-anchor="middle">1</text>
<text x="339.21" y="900" text-anchor="middle">2</text>
<text x="359.52" y="900" text-anchor="middle">3</text>
<text x="379.83" y="900" text-anchor="middle">4</text>
<text x="400.14" y="900" text-anchor="middle">5</text>
<text x="420.46" y="900" text-anchor="middle">6</text>
<text x="440.77" y="900" text-anchor="middle">7</text>
<text x="461.08" y="900" text-anchor="middle">8</text>
<text x="481.39" y="900" text-anchor="middle">9</text>
<text x="502.6" y="900" text-anchor="middle">10</text>
<text x="416.4" y="913.7" text-anchor="middle">Sample Number</text>
<text transform="translate(285.4 824.5) rotate(-90)" text-anchor="middle">Soluble Fibrin (nM)</text>
</g>
</g>
</svg>
</body>
</html>
